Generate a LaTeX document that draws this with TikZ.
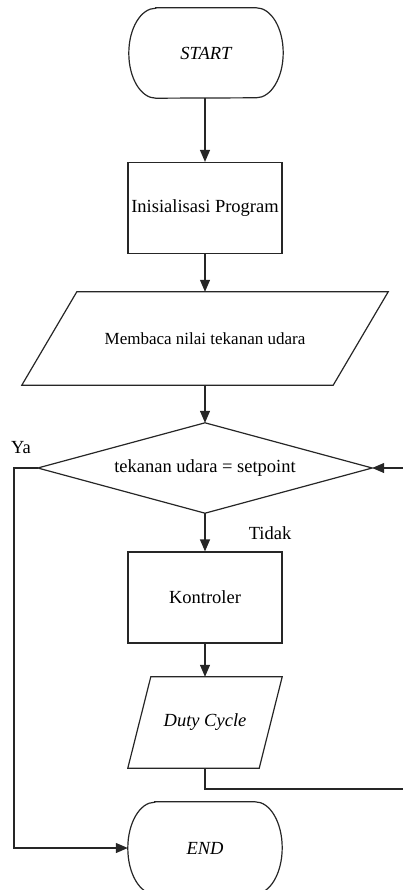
\documentclass[tikz,border=0pt]{standalone}
\usepackage{fontspec}
\setmainfont{Liberation Serif}
\usetikzlibrary{arrows.meta,calc}
\begin{document}
\begin{tikzpicture}[x=1pt,y=-1pt,
  every node/.style={font=\fontsize{18.5}{20}\selectfont},
  line/.style={line width=1.2pt,draw=black!85},
  arr/.style={line,-{Triangle[length=12pt,width=10pt]}},
  ghost/.style={inner sep=0pt,draw=none},
  procbox/.style={draw=black!85,line width=1.2pt,minimum width=154pt,minimum height=91pt,inner sep=0pt},
  lbl/.style={inner sep=0pt}
]
\useasboundingbox (0,0) rectangle (402,890);
% START terminal
\node[ghost,minimum width=154pt,minimum height=90pt] (start) at (206,53) {\itshape START};
\draw[line] ([xshift=27pt]start.north west) -- ([xshift=-27pt]start.north east)
  arc[start angle=90,end angle=-90,x radius=27pt,y radius=45pt]
  -- ([xshift=27pt]start.south west)
  arc[start angle=270,end angle=90,x radius=27pt,y radius=45pt] -- cycle;
% Init
\node[procbox] (init) at (205,208) {Inisialisasi Program};
% Input parallelogram
\node[ghost,minimum width=366pt,minimum height=93pt] (read) at (205,338.5) {\fontsize{17}{20}\selectfont Membaca nilai tekanan udara};
\draw[line] ([xshift=55pt]read.north west) -- (read.north east)
  -- ([xshift=-55pt]read.south east) -- (read.south west) -- cycle;
% Decision
\node[ghost,minimum width=334pt,minimum height=90pt] (dec) at (205,468) {tekanan udara = setpoint};
\draw[line] (dec.north) -- (dec.east) -- (dec.south) -- (dec.west) -- cycle;
% Controller
\node[procbox] (ctrl) at (205,597.5) {Kontroler};
% Duty cycle parallelogram
\node[ghost,minimum width=154pt,minimum height=91pt] (duty) at (205,722.5) {\itshape Duty Cycle};
\draw[line] ([xshift=23pt]duty.north west) -- (duty.north east)
  -- ([xshift=-23pt]duty.south east) -- (duty.south west) -- cycle;
% END terminal
\node[ghost,minimum width=154pt,minimum height=92pt] (end) at (205,848) {\itshape END};
\draw[line] ([xshift=27pt]end.north west) -- ([xshift=-27pt]end.north east)
  arc[start angle=90,end angle=-90,x radius=27pt,y radius=46pt]
  -- ([xshift=27pt]end.south west)
  arc[start angle=270,end angle=90,x radius=27pt,y radius=46pt] -- cycle;
% labels
\node[lbl] (ya) at (21,448) {Ya};
\node[lbl] (tidak) at (270,533) {Tidak};
% helper coordinates
\coordinate (yl) at (14,468);
\coordinate (rb) at (405,789);
\coordinate (rt) at (405,468);
% connectors
\draw[arr] (init.north |- start.south) -- (init.north);
\draw[arr] (init.south) -- (read.north);
\draw[arr] (read.south) -- (dec.north);
\draw[arr] (dec.south) -- (ctrl.north);
\draw[arr] (ctrl.south) -- (duty.north);
\draw[arr] (duty.south) |- (rb) -- (rt) -- (dec.east);
\draw[arr] (dec.west) -- (yl) |- (end.west);
\end{tikzpicture}
\end{document}
